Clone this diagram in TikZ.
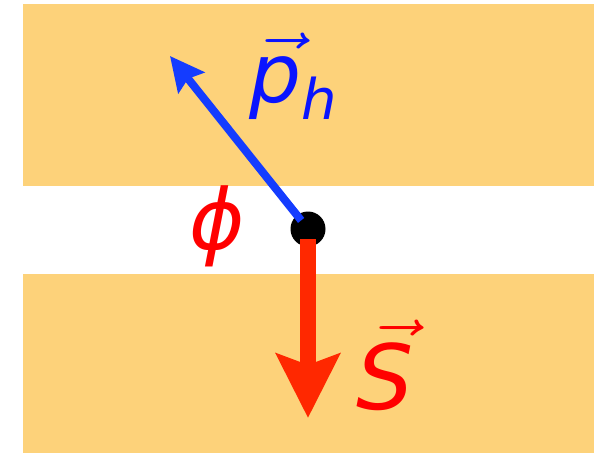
\RequirePackage{fix-cm}
\documentclass[tikz,border=0pt]{standalone}
\usepackage{amsmath}
\usepackage{graphicx}
\usepackage{fontspec}
\setmainfont{DejaVu Sans}
\usetikzlibrary{arrows.meta}

\definecolor{bandorange}{RGB}{253,210,122}
\definecolor{arrowblue}{RGB}{20,60,255}
\definecolor{labelblue}{RGB}{10,20,255}
\definecolor{arrowred}{RGB}{255,40,0}
\definecolor{labelred}{RGB}{255,0,0}

% letter with a long thin vector arrow: #1 shift right, #2 raise, #3 letter
\newcommand{\vecletter}[3]{\rlap{\kern#1\raisebox{#2}{\fontsize{82}{90}\selectfont\scalebox{1.24}[1]{$\vec{}$}}}#3}

\begin{document}
\begin{tikzpicture}[
	x=1pt, y=-1pt,
	band/.style={fill=bandorange, draw=none},
	lbl/.style={inner sep=0pt, anchor=base west, font=\itshape},
	vertex/.style={circle, fill=black, inner sep=0pt, minimum size=35pt},
	momentum/.style={draw=arrowblue, line width=8pt, -{Stealth[length=34pt, width=33pt, inset=5pt]}},
	spin/.style={draw=arrowred, line width=16pt, -{Stealth[length=64pt, width=63pt, inset=11pt]}}
]
\useasboundingbox (0,0) rectangle (606,453);

% Bands
\fill[band] (23,4) rectangle (594,186);
\fill[band] (23,274) rectangle (594,453);

% Nodes
\node[vertex] (hadron) at (308,229) {};
\coordinate (ptip) at (170,56);
\coordinate (stip) at (308,418);
\node[lbl, text=labelblue] (plabel) at (249,102)
	{\fontsize{82}{90}\selectfont\vecletter{31pt}{11pt}{p}\raisebox{-17pt}{\fontsize{56}{62}\selectfont h}};
\node[lbl, text=labelred] (philabel) at (189,249) {\fontsize{84}{94}\selectfont ϕ};
\node[lbl, text=labelred] (slabel) at (356,409) {\fontsize{90}{100}\selectfont\vecletter{38pt}{31pt}{S}};

% Edges
\draw[momentum, shorten <=11pt] (hadron.center) -- (ptip);
\draw[spin, shorten <=10pt] (hadron.center) -- (stip);

\end{tikzpicture}
\end{document}
